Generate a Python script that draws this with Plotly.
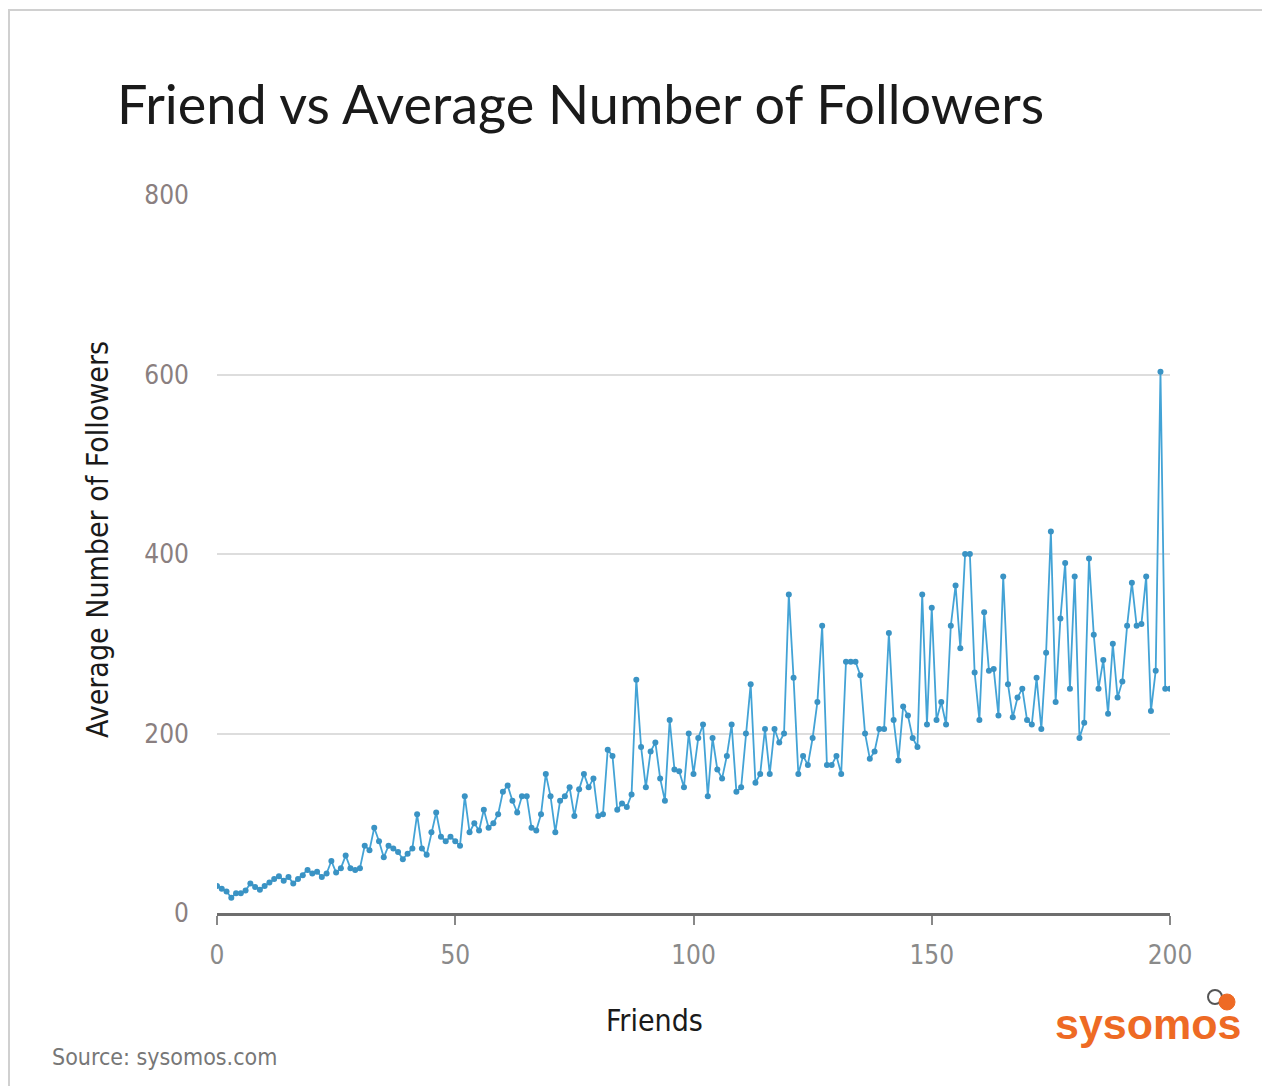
import plotly.graph_objects as go

# average followers per friend count, friends = 0..200
friends = list(range(0, 201))
avg_followers = [
    30, 27, 24, 17, 22, 22, 25, 33, 29, 26,
    30, 34, 38, 41, 36, 40, 33, 38, 42, 48,
    44, 46, 40, 44, 58, 45, 50, 64, 50, 48,
    50, 75, 70, 95, 80, 62, 75, 72, 68, 60,
    66, 72, 110, 72, 65, 90, 112, 85, 80, 85,
    80, 75, 130, 90, 100, 92, 115, 95, 100, 110,
    135, 142, 125, 112, 130, 130, 95, 92, 110, 155,
    130, 90, 125, 130, 140, 108, 138, 155, 140, 150,
    108, 110, 182, 175, 115, 122, 118, 132, 260, 185,
    140, 180, 190, 150, 125, 215, 160, 158, 140, 200,
    155, 195, 210, 130, 195, 160, 150, 175, 210, 135,
    140, 200, 255, 145, 155, 205, 155, 205, 190, 200,
    355, 262, 155, 175, 165, 195, 235, 320, 165, 165,
    175, 155, 280, 280, 280, 265, 200, 172, 180, 205,
    205, 312, 215, 170, 230, 220, 195, 185, 355, 210,
    340, 215, 235, 210, 320, 365, 295, 400, 400, 268,
    215, 335, 270, 272, 220, 375, 255, 218, 240, 250,
    215, 210, 262, 205, 290, 425, 235, 328, 390, 250,
    375, 195, 212, 395, 310, 250, 282, 222, 300, 240,
    258, 320, 368, 320, 322, 375, 225, 270, 603, 250,
    250,
]
x_ticks = [0, 50, 100, 150, 200]
y_ticks = [0, 200, 400, 600, 800]

blue = "#43a3d6"
title_font = "Lato, 'Open Sans', sans-serif"
narrow_font = "'Liberation Sans Narrow', 'DejaVu Sans Condensed', Lato, sans-serif"

# page body has an 8px margin, so shift the figure margins to keep the plot area in place
L, T = 217, 195          # plot area left/top in the page
W, H = 953, 718          # plot area size


def px(x):
    return (x - L) / W


def py(y):
    return (T + H - y) / H


fig = go.Figure()
fig.add_trace(go.Scatter(
    x=friends,
    y=avg_followers,
    mode="lines+markers",
    line=dict(color=blue, width=1.8),
    marker=dict(color="#3a93c4", size=6),
    showlegend=False,
))

fig.update_layout(
    width=1270,
    height=1086,
    paper_bgcolor="white",
    plot_bgcolor="white",
    margin=dict(l=209, r=108, t=187, b=181),
    title=dict(
        text="Friend vs Average Number of Followers",
        x=(117 - 8) / 1270, xanchor="left",
        y=1 - (105 - 8) / 1086, yanchor="middle",
        font=dict(family=title_font, size=54, color="#1a1a1a"),
    ),
    xaxis=dict(
        range=[0, 200],
        tickvals=x_ticks,
        ticks="outside",
        ticklen=9,
        tickwidth=2,
        tickcolor="#888888",
        ticklabelstandoff=8,
        showgrid=False,
        zeroline=False,
        showline=True,
        linecolor="#6e6e6e",
        linewidth=3,
        tickfont=dict(family=narrow_font, size=26, color="#8a8a8a"),
    ),
    yaxis=dict(
        range=[0, 800],
        tickvals=y_ticks,
        showgrid=True,
        gridcolor="#dddddd",
        gridwidth=2,
        zeroline=False,
        showline=False,
        ticks="",
        ticklabelstandoff=27,
        tickfont=dict(family=narrow_font, size=26, color="#8a7f80"),
    ),
    annotations=[
        dict(
            text="Friends",
            x=px(654), y=py(1020),
            xref="paper", yref="paper",
            xanchor="center", yanchor="middle",
            showarrow=False,
            font=dict(family=narrow_font, size=30, color="#1a1a1a"),
        ),
        dict(
            text="Average Number of Followers",
            x=px(97), y=py(540),
            xref="paper", yref="paper",
            xanchor="center", yanchor="middle",
            textangle=-90,
            showarrow=False,
            font=dict(family=narrow_font, size=30, color="#1a1a1a"),
        ),
        dict(
            text="Source: sysomos.com",
            x=px(50), y=py(1057),
            xref="paper", yref="paper",
            xanchor="left", yanchor="middle",
            showarrow=False,
            font=dict(family=narrow_font, size=23, color="#777777"),
        ),
        dict(
            text="<b>sysomos</b>",
            x=px(1148), y=py(1024),
            xref="paper", yref="paper",
            xanchor="center", yanchor="middle",
            showarrow=False,
            font=dict(family="'Liberation Sans', Arial, sans-serif", size=43, color="#ee6a24"),
        ),
    ],
    shapes=[
        # outer frame of the picture
        dict(type="rect", xref="paper", yref="paper",
             x0=px(9), x1=px(1300), y0=py(1100), y1=py(10),
             line=dict(color="#d0d0d0", width=2), fillcolor="rgba(0,0,0,0)", layer="below"),
        # small bubble icon of the logo
        dict(type="circle", xref="paper", yref="paper",
             x0=px(1208), x1=px(1222), y0=py(1004), y1=py(990),
             line=dict(color="#555555", width=2), fillcolor="rgba(0,0,0,0)"),
        dict(type="circle", xref="paper", yref="paper",
             x0=px(1219), x1=px(1235), y0=py(1010), y1=py(994),
             line=dict(color="#ee6a24", width=1), fillcolor="#ee6a24"),
    ],
)

fig.write_html("out.html")
